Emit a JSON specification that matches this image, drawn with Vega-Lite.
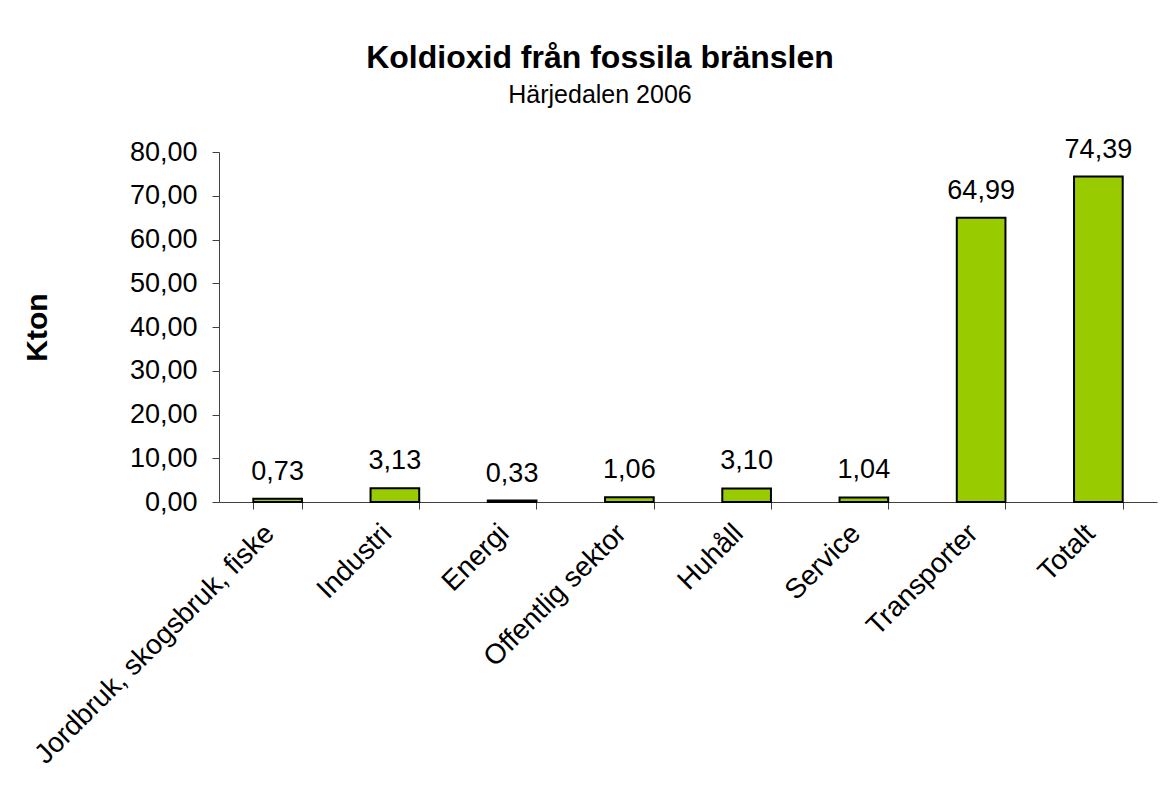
{
  "$schema": "https://vega.github.io/schema/vega-lite/v6.json",
  "width": 938,
  "height": 350,
  "autosize": {"type": "none"},
  "padding": {"left": 219, "top": 152, "right": 17, "bottom": 283},
  "background": "white",
  "config": {
    "font": "Liberation Sans",
    "view": {"stroke": null},
    "locale": {"number": {"decimal": ",", "thousands": "\u00a0", "grouping": [3], "currency": ["", " kr"]}}
  },
  "title": {
    "text": "Koldioxid från fossila bränslen",
    "subtitle": "Härjedalen 2006",
    "anchor": "middle",
    "frame": "group",
    "dx": -88,
    "offset": 27,
    "font": "Liberation Sans",
    "fontSize": 32,
    "fontWeight": "bold",
    "color": "black",
    "subtitleFont": "Liberation Sans",
    "subtitleFontSize": 25,
    "subtitleColor": "black",
    "subtitlePadding": 8
  },
  "data": {
    "values": [
      {"sektor": "Jordbruk, skogsbruk, fiske", "kton": 0.73},
      {"sektor": "Industri", "kton": 3.13},
      {"sektor": "Energi", "kton": 0.33},
      {"sektor": "Offentlig sektor", "kton": 1.06},
      {"sektor": "Huhåll", "kton": 3.10},
      {"sektor": "Service", "kton": 1.04},
      {"sektor": "Transporter", "kton": 64.99},
      {"sektor": "Totalt", "kton": 74.39}
    ]
  },
  "encoding": {
    "x": {
      "field": "sektor",
      "type": "nominal",
      "sort": null,
      "scale": {"paddingInner": 0.585, "paddingOuter": 0.2925},
      "axis": {
        "title": null,
        "labelAngle": -45,
        "labelAlign": "right",
        "labelBaseline": "middle",
        "labelFontSize": 28,
        "labelColor": "black",
        "labelPadding": 20,
        "labelOffset": -8,
        "labelLimit": 500,
        "tickBand": "extent",
        "tickSize": 7,
        "tickColor": "#404040",
        "domainColor": "#404040",
        "labelOverlap": false
      }
    },
    "y": {
      "field": "kton",
      "type": "quantitative",
      "scale": {"domain": [0, 80], "nice": false},
      "axis": {
        "title": "Kton",
        "titleFontSize": 30,
        "titleFontWeight": "bold",
        "titleColor": "black",
        "titlePadding": 77,
        "values": [0, 10, 20, 30, 40, 50, 60, 70, 80],
        "format": ".2f",
        "labelFontSize": 27,
        "labelColor": "black",
        "labelPadding": 15,
        "tickSize": 7,
        "tickColor": "#404040",
        "domainColor": "#404040",
        "grid": false
      }
    }
  },
  "layer": [
    {
      "mark": {"type": "bar", "fill": "#99CC00", "stroke": "black", "strokeWidth": 2}
    },
    {
      "mark": {"type": "text", "baseline": "alphabetic", "dy": -19, "fontSize": 27, "color": "black", "font": "Liberation Sans"},
      "encoding": {"text": {"field": "kton", "type": "quantitative", "format": ".2f"}}
    }
  ]
}
